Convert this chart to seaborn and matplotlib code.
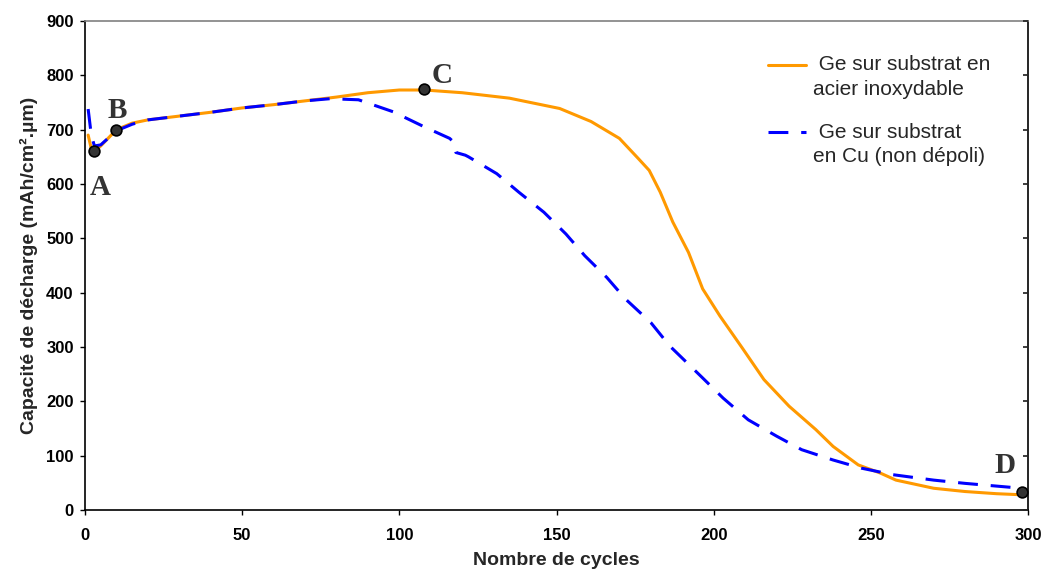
import matplotlib
matplotlib.use("Agg")
import matplotlib.pyplot as plt
import seaborn as sns
import pandas as pd
import numpy as np

# Orange series: Ge sur substrat en acier inoxydable
cycles_steel = [1, 2, 3, 5, 10, 15, 20, 30, 40, 50, 60, 70, 80, 90, 100, 108, 120, 135,
                151, 161, 170, 176, 179.5, 183, 187, 192, 196.5, 202, 209, 216, 224,
                232.5, 238, 246, 253, 258, 270, 280, 290, 298]
cap_steel = [690, 665, 660, 670, 700, 712, 718, 725, 732, 740, 746, 753, 760, 768, 773, 773,
             768, 758, 739, 715, 684, 647, 625, 585, 530, 474, 407, 357, 299, 240, 191,
             148, 117, 83, 68, 55, 40, 34, 30, 28]

# Blue series: Ge sur substrat en Cu (non dépoli)
cycles_cu = [1, 2, 3, 5, 10, 15, 20, 30, 40, 50, 60, 70, 78, 87, 98, 108, 116, 117.5, 118,
             121, 122, 131, 138, 146, 153, 159, 166, 172, 180, 186, 196.5, 203, 211, 220,
             228, 238, 247, 257, 270, 280, 290, 298]
cap_cu = [738, 690, 670, 672, 698, 710, 718, 725, 732, 740, 746, 753, 757, 755, 733, 705,
          684, 676, 658, 653, 650, 619, 585, 548, 508, 468, 428, 388, 345, 302, 243, 206,
          166, 136, 111, 92, 77, 65, 55, 49, 44, 40]

# Marked points
point_labels = ["A", "B", "C", "D"]
point_x = [3, 10, 108, 298]
point_y = [660, 700, 775, 33]

x_ticks = [0, 50, 100, 150, 200, 250, 300]
y_ticks = [0, 100, 200, 300, 400, 500, 600, 700, 800, 900]

label_steel = " Ge sur substrat en\nacier inoxydable"
label_cu = " Ge sur substrat\nen Cu (non dépoli)"

sns.set_theme(style="white")
plt.rcParams['font.family'] = ['Liberation Sans', 'DejaVu Sans']

fig = plt.figure(figsize=(10.44, 5.73), dpi=100)
ax = fig.add_axes([85 / 1044, 63 / 573, (1028 - 85) / 1044, (510 - 21) / 573])

df_steel = pd.DataFrame({"x": cycles_steel, "y": cap_steel})
df_cu = pd.DataFrame({"x": cycles_cu, "y": cap_cu})

sns.lineplot(data=df_steel, x="x", y="y", ax=ax, color="#FF9900", linewidth=2.2,
             label=label_steel, sort=False)
sns.lineplot(data=df_cu, x="x", y="y", ax=ax, color="#0000FF", linewidth=2.2,
             label=label_cu, sort=False, dashes=False)
ax.lines[1].set_dashes([6.5, 4.2])

ax.scatter(point_x, point_y, s=60, color="#333333", edgecolor="black", linewidth=1.2, zorder=5)
offsets = {"A": (4.3, -26), "B": (0.7, 14), "C": (13, 9.5), "D": (-12, 19)}
for lab, px, py in zip(point_labels, point_x, point_y):
    dx, dy = offsets[lab]
    ax.annotate(lab, (px, py), xytext=(dx, dy), textcoords="offset points",
                ha="center", va="center", fontsize=21, fontweight="bold",
                family="Liberation Serif", color="#333333")

ax.set_xlim(0, 300)
ax.set_ylim(0, 900)
ax.set_xticks(x_ticks)
ax.set_yticks(y_ticks)
ax.tick_params(axis="both", which="both", direction="out", length=3.6, width=1,
               labelsize=12, colors="black", left=True, bottom=True)
for lab in ax.get_xticklabels() + ax.get_yticklabels():
    lab.set_fontweight("bold")
ax.tick_params(axis="x", pad=9)
ax.tick_params(axis="y", pad=4.5)

ax.set_xlabel("Nombre de cycles", fontsize=14, fontweight="bold", labelpad=7)
ax.set_ylabel("Capacité de décharge (mAh/cm\u00b2.\u00b5m)", fontsize=14, fontweight="bold", labelpad=6)

for s in ["left", "bottom", "right"]:
    ax.spines[s].set_color("black")
    ax.spines[s].set_linewidth(1.2)
ax.spines["top"].set_color("#808080")
ax.spines["top"].set_linewidth(1.2)

ax2 = ax.twinx()
ax2.set_ylim(0, 900)
ax2.set_yticks(y_ticks)
ax2.tick_params(axis="y", direction="in", length=3.6, labelright=False, right=True)
for s in ax2.spines.values():
    s.set_visible(False)

leg = ax.legend(loc="upper left", bbox_to_anchor=(0.724, 0.93), frameon=False,
                fontsize=15, handlelength=1.86, labelspacing=1.15, handletextpad=0.29,
                borderpad=0, borderaxespad=0)
for t in leg.get_texts():
    t.set_linespacing(1.36)
for h in leg.legend_handles:
    yd = np.asarray(h.get_ydata(), dtype=float)
    h.set_ydata(yd + 9)

fig.savefig("out.png", dpi=100, facecolor="white")
